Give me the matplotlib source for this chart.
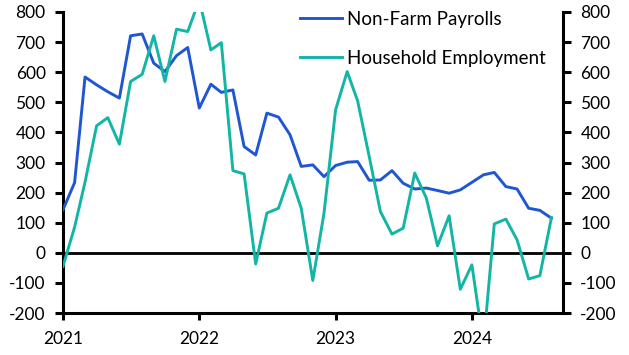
import matplotlib
matplotlib.use("Agg")
import matplotlib.pyplot as plt
import matplotlib.dates as mdates
import pandas as pd
import numpy as np

plt.rcParams['font.family'] = ['Lato', 'DejaVu Sans']
plt.rcParams['axes.unicode_minus'] = False

dates = pd.date_range("2021-01-01", periods=44, freq="MS")

nonfarm_payrolls = [143, 233, 584, 558, 535, 514, 721, 727, 630, 602, 655, 682,
                    481, 560, 533, 541, 353, 325, 464, 451, 392, 287, 292, 253,
                    290, 301, 303, 241, 242, 273, 231, 212, 215, 207, 198, 209,
                    234, 259, 267, 220, 212, 148, 141, 115]

household_employment = [-45, 85, 235, 422, 449, 361, 569, 593, 721, 569, 743, 735,
                        840, 674, 698, 273, 262, -37, 132, 148, 259, 148, -92, 132,
                        475, 602, 505, 320, 137, 62, 82, 265, 182, 23, 123, -121,
                        -40, -305, 96, 112, 43, -87, -76, 117]

series_labels = ["Non-Farm Payrolls", "Household Employment"]
year_ticks = ["2021", "2022", "2023", "2024"]
y_ticks = [-200, -100, 0, 100, 200, 300, 400, 500, 600, 700, 800]

blue = "#1F56D2"
teal = "#13B5A5"

fig = plt.figure(figsize=(6.29, 3.55), dpi=100)
ax = fig.add_axes([63/629, 42/355, 500/629, 301/355])

ax.plot(dates, nonfarm_payrolls, color=blue, lw=2.1, label=series_labels[0], zorder=3)
ax.plot(dates, household_employment, color=teal, lw=2.1, label=series_labels[1], zorder=3)
ax.axhline(0, color="black", lw=2.0, zorder=2)

ax.set_ylim(-200, 800)
ax.set_xlim(pd.Timestamp("2021-01-01"), pd.Timestamp("2024-09-01"))
ax.set_yticks(y_ticks)
ax.set_xticks([pd.Timestamp(f"{y}-01-01") for y in year_ticks])
ax.set_xticklabels(year_ticks)

for s in ["top"]:
    ax.spines[s].set_visible(False)
for s in ["left", "right", "bottom"]:
    ax.spines[s].set_linewidth(2.2)
    ax.spines[s].set_color("black")

ax.tick_params(axis="y", which="both", left=True, right=True, labelleft=True, labelright=True,
               direction="out", length=5.5, width=2.2, labelsize=12.5, pad=7)
ax.tick_params(axis="x", direction="out", length=5, width=2.2, labelsize=12.5, pad=8)

leg = ax.legend(loc="upper left", bbox_to_anchor=(300/629, 1 - 11/355), bbox_transform=fig.transFigure,
                frameon=False, fontsize=13.5, handlelength=2.25, handletextpad=0.27,
                labelspacing=1.15, borderpad=0, borderaxespad=0)

fig.savefig("out.png", dpi=100)
